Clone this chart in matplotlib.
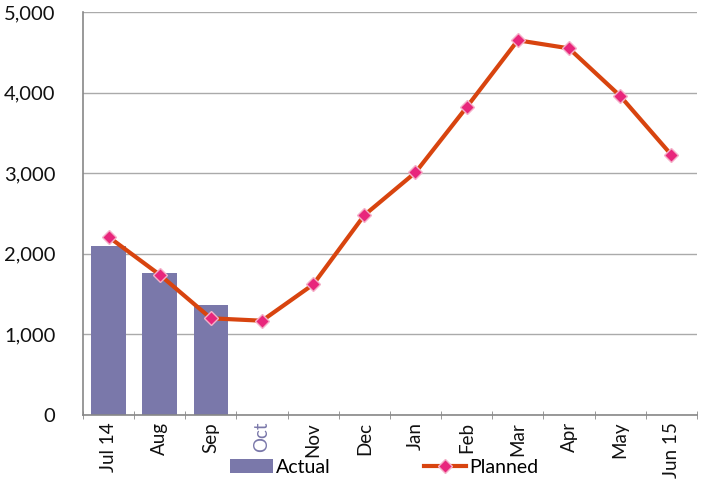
import numpy as np
import matplotlib.pyplot as plt

months = ['Jul 14', 'Aug', 'Sep', 'Oct', 'Nov', 'Dec', 'Jan', 'Feb',
          'Mar', 'Apr', 'May', 'Jun 15']
actual = [2100, 1760, 1360]
planned = [2210, 1740, 1200, 1170, 1620, 2480, 3010, 3820, 4650, 4550,
           3960, 3230]
yticks = [0, 1000, 2000, 3000, 4000, 5000]

plt.rcParams['font.family'] = ['Lato', 'DejaVu Sans']

fig = plt.figure(figsize=(7.06, 4.83), dpi=100)
ax = fig.add_axes([0.1176, 0.1408, 0.8694, 0.8342])

x = np.arange(len(months))
bars = ax.bar(x[:len(actual)], actual, width=0.68, color='#7a78aa',
              label='Actual', zorder=2)
line, = ax.plot(x, planned, color='#d8440f', lw=3, marker='D', ms=7,
                mfc='#e8267c', mec='#f4b0c8', mew=1, label='Planned', zorder=3)

ax.set_xlim(-0.5, len(months) - 0.5)
ax.set_ylim(0, 5000)
ax.set_yticks(yticks)
ax.set_yticklabels([f'{v:,}' for v in yticks], fontsize=14.5, color='#111111')
ax.tick_params(axis='y', length=0, pad=20)
ax.set_xticks(x)
ax.set_xticklabels(months, rotation=90, fontsize=13.5, color='#111111')
ax.get_xticklabels()[3].set_color('#7a78aa')
ax.tick_params(axis='x', length=0, pad=5)
ax.set_xticks(np.arange(len(months) + 1) - 0.5, minor=True)
ax.tick_params(axis='x', which='minor', length=6, direction='inout',
               color='#888888')

ax.grid(axis='y', color='#aaaaaa', lw=1, zorder=0)
for s in ['top', 'right']:
    ax.spines[s].set_visible(False)
for s in ['left', 'bottom']:
    ax.spines[s].set_color('#888888')
    ax.spines[s].set_linewidth(1.2)

fig.legend(handles=[bars, line], loc='center', ncol=2, frameon=False,
           bbox_to_anchor=(0.544, 0.033), fontsize=14, columnspacing=4.8,
           handlelength=2.2, handletextpad=0.15, borderaxespad=0)

fig.savefig('out.png', dpi=100)
